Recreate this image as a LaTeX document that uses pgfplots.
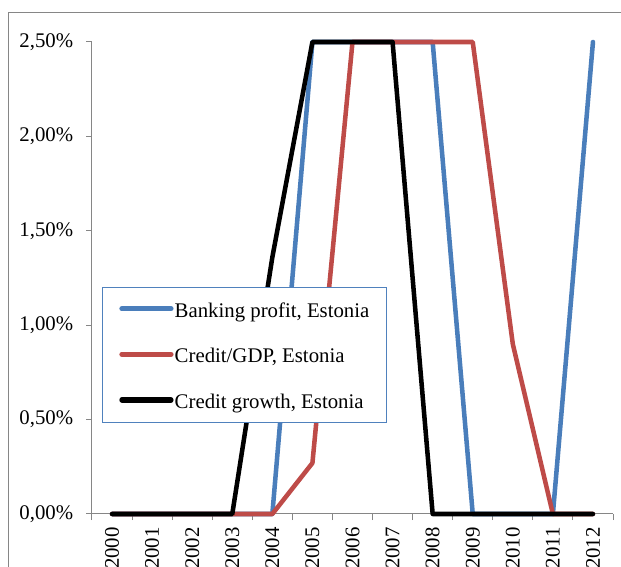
\documentclass[border=0pt]{standalone}
\usepackage{fontspec}
\setmainfont{Liberation Serif}
\usepackage{pgfplots}
\pgfplotsset{compat=1.18}
\definecolor{bpblue}{HTML}{4A7EBB}
\definecolor{cgred}{HTML}{BE4B48}
\definecolor{axgray}{HTML}{868686}
\definecolor{legblue}{HTML}{4F81BD}
\pgfplotstableread{
x bank gdp growth
0 0 0 0
1 0 0 0
2 0 0 0
3 0 0 0
4 0 0 1.36
5 2.5 0.27 2.5
6 2.5 2.5 2.5
7 2.5 2.5 2.5
8 2.5 2.5 0
9 0 2.5 0
10 0 0.90 0
11 0 0 0
12 2.5 0 0
}\datatable
\begin{document}
\begin{tikzpicture}
\draw[axgray, line width=0.75pt] (-62.25pt,-100pt) rectangle (500pt,375.75pt);
\begin{axis}[
  at={(0pt,0pt)}, anchor=south west,
  scale only axis, width=390.75pt, height=354pt,
  xmin=-0.5, xmax=12.5, ymin=0, ymax=2.5,
  axis x line*=bottom, axis y line*=left,
  axis line style={axgray, line width=0.75pt},
  tick align=outside,
  major tick length=4.5pt, minor tick length=4.5pt,
  xtick={0,...,12},
  xticklabels={2000,2001,2002,2003,2004,2005,2006,2007,2008,2009,2010,2011,2012},
  minor xtick={-0.5,0.5,...,12.5},
  major x tick style={draw=none},
  minor x tick style={axgray, line width=0.75pt},
  ytick={0,0.5,1,1.5,2,2.5},
  yticklabels={{0,00\%},{0,50\%},{1,00\%},{1,50\%},{2,00\%},{2,50\%}},
  ytick style={axgray, line width=0.75pt},
  tick label style={font=\fontsize{15.6}{18}\selectfont},
  xticklabel style={rotate=90, anchor=east, inner sep=0pt},
  yticklabel style={anchor=east, inner sep=0pt},
  xticklabel shift=5.3pt,
  yticklabel shift=9.4pt,
  clip=false,
  every axis plot/.append style={line width=3.4pt, line cap=round, line join=round},
  legend image code/.code={\draw[#1, line width=4pt, line cap=round] (-0.55pt,0.8pt) -- (36.15pt,0.8pt); \path (0pt,0pt) (39.2pt,0pt);},
  legend cell align=left,
  legend style={at={(0.0196,0.4799)}, anchor=north west, draw=legblue, line width=0.75pt,
    fill=white, inner xsep=12.45pt, inner ysep=9.5pt, row sep=20.5pt, column sep=-1.9pt,
    font=\fontsize{15.6}{18}\selectfont,
    nodes={inner sep=0pt, text height=12.5pt, text depth=1.2pt}},
]
\addplot[bpblue] table[x=x, y=bank] {\datatable};
\addlegendentry{Banking profit, Estonia}
\addplot[cgred] table[x=x, y=gdp] {\datatable};
\addlegendentry{Credit/GDP, Estonia}
\addplot[black] table[x=x, y=growth] {\datatable};
\addlegendentry{Credit growth, Estonia}
\end{axis}
\pgfresetboundingbox
\path[use as bounding box] (-69pt,-39.75pt) rectangle (396.75pt,385.5pt);
\end{tikzpicture}
\end{document}
